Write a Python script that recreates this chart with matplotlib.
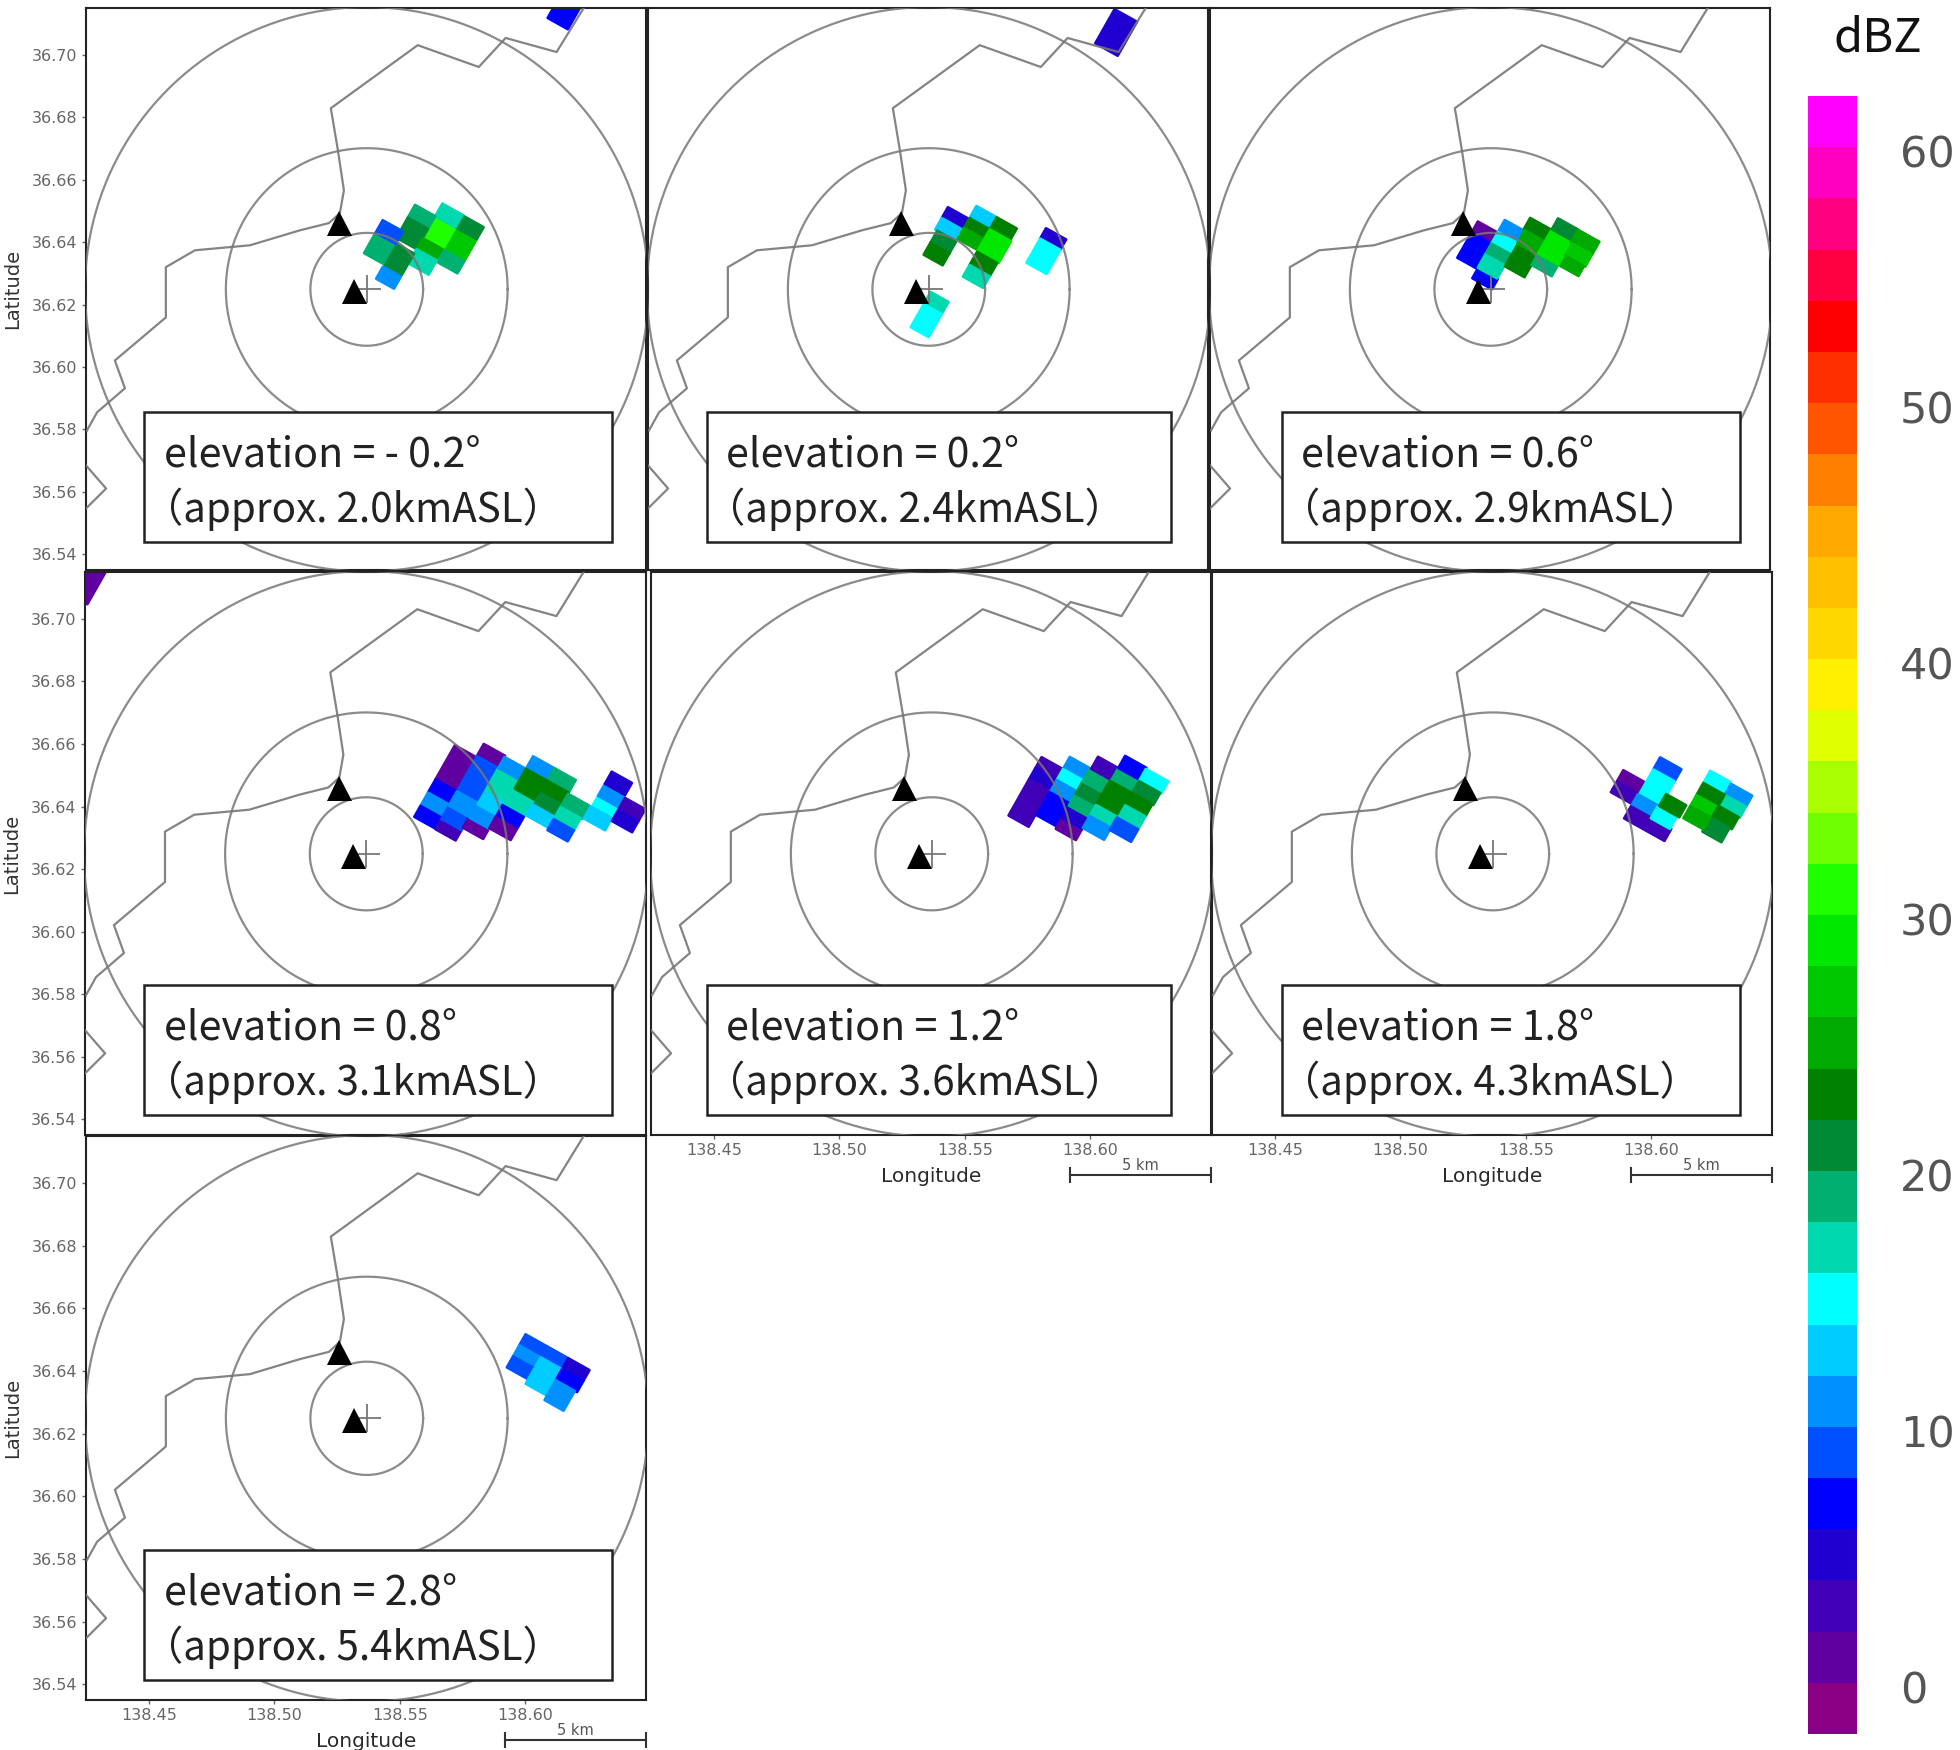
from matplotlib import pyplot as plt
from matplotlib.collections import PolyCollection
from matplotlib.colors import BoundaryNorm, ListedColormap
from matplotlib.cm import ScalarMappable
from matplotlib.patches import Rectangle
from matplotlib.transforms import ScaledTranslation
import numpy as np

# Reflectivity colour scale, 2 dBZ per step, from -2 to 62.
DBZ_LEVELS = list(range(-2, 64, 2))
DBZ_COLORS = [
    "#8b0082", "#6000a0", "#4000b8", "#2000d0", "#0000ff", "#0050ff", "#0090ff", "#00ccff",
    "#00ffff", "#00d8b0", "#00b070", "#008a35", "#008000", "#00aa00", "#00c800", "#00e800",
    "#20ff00", "#70ff00", "#a8ff00", "#e0ff00", "#fff000", "#ffd800", "#ffc000", "#ffa800",
    "#ff8000", "#ff5500", "#ff3000", "#ff0000", "#ff0040", "#ff0080", "#ff00c0", "#ff00ff",
]
DBZ_TICKS = [0, 10, 20, 30, 40, 50, 60]

LAT_TICKS = [36.54, 36.56, 36.58, 36.60, 36.62, 36.64, 36.66, 36.68, 36.70]
LON_TICKS = [138.45, 138.50, 138.55, 138.60]
LON_LIM = (138.425, 138.648)
LAT_LIM = (36.535, 36.715)

# Map outline (lon, lat)
COAST_LON = [138.6232, 138.6124, 138.5921, 138.5814, 138.5571, 138.5225, 138.5253, 138.5277,
             138.5261, 138.5217, 138.5102, 138.4903, 138.4684, 138.4568, 138.4568, 138.4365,
             138.4405, 138.4294, 138.4254]
COAST_LAT = [36.715, 36.7009, 36.7054, 36.6961, 36.7031, 36.6829, 36.6695, 36.6566,
             36.6493, 36.6461, 36.6438, 36.6390, 36.6374, 36.6320, 36.6159, 36.6021,
             36.5932, 36.5855, 36.5797]
ISLAND_LON = [138.425, 138.433, 138.425]
ISLAND_LAT = [36.5685, 36.5611, 36.5547]

PEAK_LON = [138.5259, 138.5316]
PEAK_LAT = [36.6461, 36.6243]
CENTER_LON = 138.5368
CENTER_LAT = 36.6249
RANGE_KM = [2, 5, 10]
DEG_LON_PER_KM = 0.01122
DEG_LAT_PER_KM = 0.00904

# Radar cell grid: origin and the lon/lat step of one gate and one beam.
GRID_LON0, GRID_LAT0 = 138.5591, 36.6413
GATE_STEP = (0.00895, -0.00401)
BEAM_STEP = (0.00497, 0.00705)

# One list per elevation: (gate from, gate to, beam from, beam to, dBZ)
CELLS_02M = [
    (0, 1, 0, 1, 30), (1, 1.85, 0, 1, 26), (0.9, 1.85, 1, 1.55, 20), (0, 0.9, 1, 1.57, 16),
    (-0.9, 0, 0.42, 1, 18), (-0.9, 0, -0.5, 0.42, 20), (0, 0.9, -0.5, 0, 24),
    (0.95, 1.85, -0.55, 0, 18), (0, 0.9, -1.15, -0.5, 16), (-1.7, -0.75, -1.65, -0.72, 18),
    (-0.75, 0, -1.7, -0.7, 20), (-1.7, -0.8, -0.72, -0.15, 8), (-0.8, 0, -2.3, -1.75, 10),
    (0, 0.9, 10, 11.5, 6),
]
CELLS_02 = [
    (-1.84, -0.94, -0.13, 0.36, 4), (-1.84, -0.94, -0.66, -0.13, 12), (-1.75, -0.9, -1.2, -0.66, 20),
    (-1.75, -0.9, -1.75, -1.2, 22), (-0.9, 0, 0.4, 0.95, 12), (-0.9, 0, -0.05, 0.4, 22),
    (-0.9, 0, -0.55, -0.05, 24), (0, 0.9, 0.4, 0.95, 22), (0, 0.95, -0.6, 0.4, 28),
    (0, 0.9, -1.22, -0.62, 22), (0, 0.9, -1.75, -1.22, 16), (-0.8, 0, -3.45, -2.9, 16),
    (-0.8, 0, -4.5, -3.45, 14), (1.88, 2.78, 1.05, 1.52, 4), (1.88, 2.78, -0.05, 1.05, 14),
    (0, 1, 8.85, 10.4, 4),
]
CELLS_06 = [
    (-2.65, -1.75, -1.25, -0.75, 0), (-2.65, -1.75, -2.4, -1.25, 6), (-1.75, -0.87, -2.82, -2.35, 6),
    (-1.77, -0.9, -0.73, -0.18, 10), (-1.77, -0.9, -1.25, -0.73, 14), (-1.77, -0.9, -1.75, -1.25, 18),
    (-1.77, -0.9, -2.35, -1.75, 16), (-0.87, 0, -1.78, -0.75, 22), (-0.95, 0, -0.15, 0.38, 22),
    (-0.9, 0, -0.75, -0.15, 24), (0, 0.9, -1.22, -0.7, 18), (0, 1, -0.7, 0.4, 28),
    (0, 0.9, 0.4, 0.9, 20), (0.9, 1.85, 0.3, 0.89, 24), (0.95, 1.85, -0.25, 0.3, 26),
    (1, 1.8, -0.7, -0.25, 24),
]
CELLS_08 = [
    (0, 0.95, 1.05, 2.6, 0), (0.95, 1.9, 2.65, 3.2, 0), (0.95, 1.9, 1.05, 2.65, 8),
    (0, 0.95, 0.45, 1.05, 6), (0, 0.95, -0.15, 0.45, 10), (0, 0.95, -0.65, -0.15, 6),
    (0.95, 1.85, -0.67, -0.2, 2), (0.95, 1.85, -0.2, 0.4, 8), (0.95, 1.85, 0.4, 1.05, 10),
    (1.85, 2.75, -0.09, 0.38, 0), (1.85, 2.75, 0.38, 1, 10), (1.9, 2.75, 1, 1.65, 12),
    (1.9, 2.8, 1.65, 2.65, 16), (2.8, 3.7, 1.5, 2.25, 16), (1.9, 2.8, 2.65, 3.15, 10),
    (2.75, 3.7, 0.9, 1.45, 6), (2.75, 3.7, 0.4, 0.9, 0), (2.85, 3.8, 3.15, 3.72, 10),
    (3.8, 4.75, 3.15, 3.72, 18), (2.85, 3.8, 2.25, 3.15, 22), (3.8, 4.75, 2.6, 3.15, 22),
    (3.8, 4.7, 2.05, 2.6, 20), (4.75, 5.7, 2.5, 3.1, 18), (4.75, 5.65, 1.95, 2.5, 16),
    (3.75, 4.7, 1.55, 2.05, 12), (4.75, 5.65, 1.45, 1.95, 8), (5.8, 6.7, 3.1, 3.6, 14),
    (5.8, 6.7, 3.6, 4.15, 10), (5.8, 6.7, 4.15, 4.7, 4), (5.75, 6.7, 2.55, 3.1, 12),
    (6.75, 7.65, 3.5, 4.05, 2), (6.75, 7.65, 3, 3.5, 4), (-16, -15.1, 0.4, 2, 0),
]
CELLS_12 = [
    (0.95, 1.9, 2.1, 2.6, 2), (0.95, 1.9, 1.6, 2.1, 4), (0.95, 1.85, -0.05, 1.6, 2),
    (1.9, 2.8, 2.6, 3.15, 10), (1.9, 2.8, 2.1, 2.6, 14), (1.9, 2.8, 1.55, 2.1, 10),
    (1.9, 2.8, 0.5, 1.55, 6), (2.8, 3.7, 0.4, 0.9, 0), (2.8, 3.7, 0.9, 1.45, 4),
    (2.8, 3.7, 1.45, 2, 18), (2.8, 3.7, 2, 2.55, 20), (2.8, 3.7, 2.55, 3.15, 18),
    (2.85, 3.75, 3.15, 3.7, 2), (3.75, 4.7, 3.1, 3.7, 18), (3.75, 4.7, 3.7, 4.25, 6),
    (4.7, 5.7, 3.65, 4.2, 14), (4.7, 5.65, 3.1, 3.65, 20), (3.7, 4.7, 2, 3.1, 22),
    (4.7, 5.6, 2.55, 3.1, 22), (4.7, 5.6, 1.97, 2.55, 16), (3.7, 4.7, 1.5, 2, 16),
    (3.7, 4.65, 0.95, 1.5, 10), (4.65, 5.6, 1.4, 1.97, 8),
]
CELLS_18 = [
    (1.9, 2.85, 2.05, 2.55, 0), (1.9, 2.85, 1.55, 2.05, 2), (2.9, 3.85, 3.15, 3.7, 8),
    (2.9, 3.85, 2, 3.15, 14), (2.85, 3.8, 1.48, 2, 10), (2.85, 4.65, 0.9, 1.45, 2),
    (3.75, 4.6, 1.42, 1.95, 14), (3.8, 4.7, 2, 2.55, 22), (4.85, 5.75, 3.65, 4.2, 14),
    (5.8, 6.75, 3.65, 4.15, 10), (5.8, 6.75, 3.15, 3.65, 16), (4.85, 5.8, 3.1, 3.65, 22),
    (4.85, 5.8, 2.6, 3.1, 26), (5.8, 6.7, 2.6, 3.15, 22), (5.75, 6.6, 1.95, 2.6, 20),
    (4.85, 5.75, 2.05, 2.6, 24),
]
CELLS_28 = [
    (2.85, 3.8, 2.6, 3.1, 8), (3.8, 4.75, 2.6, 3.1, 8), (4.75, 5.7, 2.6, 3.1, 4),
    (2.85, 3.8, 2.1, 2.6, 10), (3.8, 4.75, 2.1, 2.6, 12), (4.75, 5.7, 2.1, 2.6, 6),
    (2.85, 3.8, 1.6, 2.1, 8), (3.8, 4.75, 1.4, 2.1, 12), (4.75, 5.6, 1.2, 2.1, 10),
]

ELEVATIONS = ["- 0.2", "0.2", "0.6", "0.8", "1.2", "1.8", "2.8"]
HEIGHTS = ["2.0", "2.4", "2.9", "3.1", "3.6", "4.3", "5.4"]
ALL_CELLS = [CELLS_02M, CELLS_02, CELLS_06, CELLS_08, CELLS_12, CELLS_18, CELLS_28]

# Panel frames in pixels: left, top, width, height. Same order as ELEVATIONS.
FIG_W, FIG_H = 1960, 1750
PANELS = [
    (86, 8, 560, 562), (648, 8, 560, 562), (1210, 8, 560, 562),
    (85, 572, 561, 563), (651, 572, 560, 563), (1212, 572, 560, 563),
    (86, 1136, 560, 564),
]
# Label boxes in pixels: left, top, width, text left.
BOXES = [
    (144, 412, 468, 164), (707, 412, 464, 726), (1282, 412, 458, 1301),
    (144, 985, 468, 164), (707, 985, 464, 726), (1282, 985, 458, 1301),
    (144, 1550, 468, 164),
]
BOX_H = 130
TEXT_FONT = ["Noto Sans CJK JP", "DejaVu Sans"]
LINE_GREY = "#777777"
TICK_GREY = "#666666"

cmap = ListedColormap(DBZ_COLORS)
norm = BoundaryNorm(DBZ_LEVELS, cmap.N)


def pixel_rect(left, top, width, height):
    """Pixel box, measured from the top left, as a figure fraction rect."""
    return [left / FIG_W, 1 - (top + height) / FIG_H, width / FIG_W, height / FIG_H]


def cell_polygons(cells):
    """Turn (gate, beam) blocks into lon/lat quadrilaterals."""
    polys = []
    for g0, g1, b0, b1, _ in cells:
        corners = []
        for g, b in [(g0, b0), (g1, b0), (g1, b1), (g0, b1)]:
            corners.append((GRID_LON0 + g * GATE_STEP[0] + b * BEAM_STEP[0],
                            GRID_LAT0 + g * GATE_STEP[1] + b * BEAM_STEP[1]))
        polys.append(corners)
    return polys


fig = plt.figure(figsize=(FIG_W / 100, FIG_H / 100), dpi=100, facecolor="white")
theta = np.linspace(0, 2 * np.pi, 361)

for i, cells in enumerate(ALL_CELLS):
    ax = fig.add_axes(pixel_rect(*PANELS[i]))
    ax.set_xlim(LON_LIM)
    ax.set_ylim(LAT_LIM)

    # Face coloured edges close the hairline gaps between neighbouring blocks.
    coll = PolyCollection(cell_polygons(cells), array=[c[4] for c in cells],
                          cmap=cmap, norm=norm, edgecolors="face", linewidths=1.8, zorder=2)
    ax.add_collection(coll)

    for r in RANGE_KM:
        ax.plot(CENTER_LON + r * DEG_LON_PER_KM * np.cos(theta),
                CENTER_LAT + r * DEG_LAT_PER_KM * np.sin(theta),
                color=LINE_GREY, lw=1.6, alpha=0.85, zorder=3)
    ax.plot(COAST_LON, COAST_LAT, color=LINE_GREY, lw=1.6, alpha=0.9, zorder=3)
    ax.plot(ISLAND_LON, ISLAND_LAT, color=LINE_GREY, lw=1.6, alpha=0.9, zorder=3)
    ax.plot(CENTER_LON, CENTER_LAT, "+", color=LINE_GREY, ms=20, mew=1.3, zorder=3)
    ax.plot(PEAK_LON, PEAK_LAT, "^", color="black", ms=18, mew=0, zorder=4)

    for spine in ax.spines.values():
        spine.set_linewidth(1.5)
        spine.set_color("#222222")

    has_lat = i in (0, 3, 6)
    has_lon = i in (4, 5, 6)
    ax.set_yticks(LAT_TICKS if has_lat else [])
    ax.set_xticks(LON_TICKS if has_lon else [])
    ax.set_xticklabels([f"{v:.2f}" for v in LON_TICKS] if has_lon else [])
    ax.set_yticklabels([f"{v:.2f}" for v in LAT_TICKS] if has_lat else [])
    ax.tick_params(length=3, width=1, color=TICK_GREY, labelcolor=TICK_GREY,
                   labelsize=11.5, pad=3)
    if has_lat:
        ax.set_ylabel("Latitude", fontsize=14, color="#333333", labelpad=7)
    if has_lon:
        ax.set_xlabel("Longitude", fontsize=14.5, color="#2a2a2a", labelpad=6)
        # 5 km scale bar below the frame
        ax.plot([138.5917, 138.648], [36.5222, 36.5222], color="#333333", lw=1.5, clip_on=False)
        for end in (138.5917, 138.648):
            ax.plot([end, end], [36.5200, 36.5244], color="#333333", lw=1.5, clip_on=False)
        ax.text(138.620, 36.5228, "5 km", fontsize=10.5, color="#555555",
                ha="center", va="bottom", clip_on=False)

    left, top, width, text_x = BOXES[i]
    fig.add_artist(Rectangle((left / FIG_W, 1 - (top + BOX_H) / FIG_H), width / FIG_W, BOX_H / FIG_H,
                             transform=fig.transFigure, facecolor="white",
                             edgecolor="#222222", lw=1.8, zorder=5))
    fig.text(text_x / FIG_W, 1 - (top + 43) / FIG_H, f"elevation = {ELEVATIONS[i]}°",
             family=TEXT_FONT, fontsize=29.7, color="#222222", va="center", zorder=6)
    fig.text((text_x - 21) / FIG_W, 1 - (top + 97) / FIG_H, f"（approx. {HEIGHTS[i]}kmASL）",
             family=TEXT_FONT, fontsize=29, color="#222222", va="center", zorder=6)

# Colour bar
cax = fig.add_axes(pixel_rect(1808, 96, 49, 1638))
cbar = fig.colorbar(ScalarMappable(norm=norm, cmap=cmap), cax=cax, ticks=DBZ_TICKS,
                    drawedges=False, spacing="proportional")
cbar.outline.set_visible(False)
cbar.ax.minorticks_off()
cbar.ax.tick_params(which="both", length=0, pad=31, labelsize=31, labelcolor="#555555")
nudge = ScaledTranslation(0, -3 / 72, fig.dpi_scale_trans)
for label in cbar.ax.get_yticklabels():
    label.set_transform(label.get_transform() + nudge)
fig.text(1878 / FIG_W, 1 - 38 / FIG_H, "dBZ", family=TEXT_FONT, fontsize=34,
         color="#111111", ha="center", va="center")

fig.savefig("out.png", dpi=100)
